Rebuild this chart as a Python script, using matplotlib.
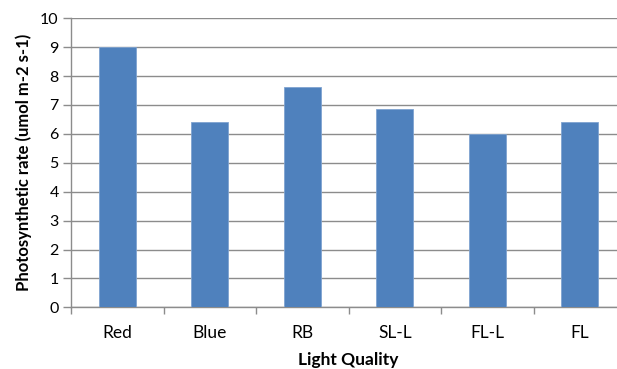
import matplotlib.pyplot as plt
import numpy as np

categories = ["Red", "Blue", "RB", "SL-L", "FL-L", "FL"]
rates = [9.0, 6.4, 7.62, 6.86, 6.0, 6.4]

plt.rcParams["font.family"] = ["Lato", "DejaVu Sans"]

fig = plt.figure(figsize=(6.17, 3.69), dpi=100)
ax = fig.add_axes([71.3 / 617, 61.7 / 369, (626 - 71.3) / 617, 289.0 / 369])

x = np.arange(len(categories))
ax.bar(x, rates, width=0.4, color="#4F81BD", edgecolor="#7FA3D0", linewidth=0.6, zorder=3)

ax.set_xlim(-0.5, len(categories) - 0.5)
ax.set_ylim(0, 10)
ax.set_yticks(range(0, 11))
ax.yaxis.grid(True, color="#8C8C8C", linewidth=1.0, zorder=0)

ax.set_xticks(x, categories)
ax.set_xticks(np.arange(-0.5, len(categories)), minor=True)
ax.tick_params(axis="x", which="major", length=0, pad=13, labelsize=12.5)
ax.tick_params(axis="x", which="minor", length=5, color="#8C8C8C", width=1.0)
ax.tick_params(axis="y", length=6, color="#8C8C8C", width=1.0, labelsize=11.5, pad=3)

for side in ["top", "right"]:
    ax.spines[side].set_visible(False)
for side in ["left", "bottom"]:
    ax.spines[side].set_color("#8C8C8C")
    ax.spines[side].set_linewidth(1.0)

ax.set_xlabel("Light Quality", fontweight="bold", fontsize=12.5, labelpad=8)
ax.set_ylabel("Photosynthetic rate (umol m-2 s-1)", fontweight="bold", fontsize=12, labelpad=6)

fig.savefig("out.png", dpi=100)
